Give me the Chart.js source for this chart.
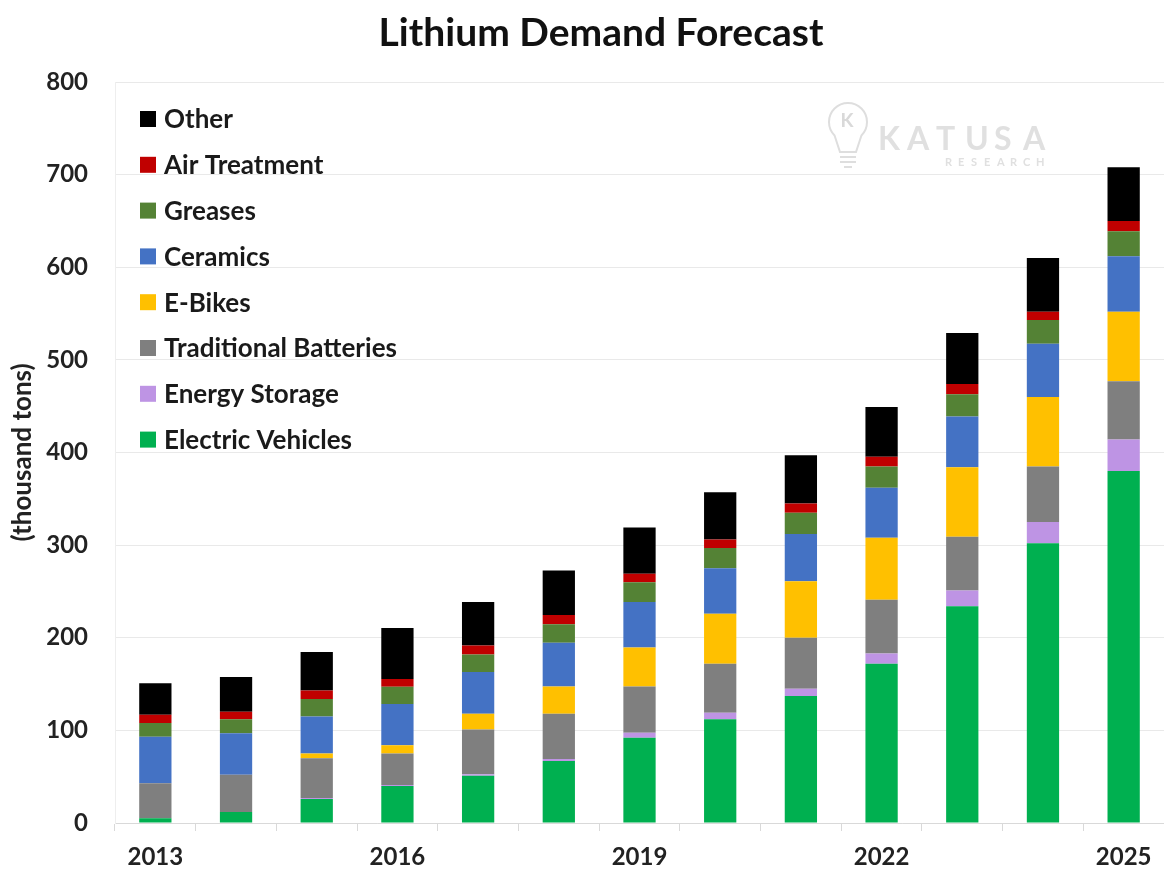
<!DOCTYPE html>
<html>
<head>
<meta charset="utf-8">
<script src="https://cdn.jsdelivr.net/npm/chart.js@4.4.1/dist/chart.umd.min.js"></script>
<style>
  body { margin: 0; background: #fff; }
  #wrap { width: 1164px; height: 871px; position: relative; }
</style>
</head>
<body>
<div id="wrap"><canvas id="lithiumChart"></canvas></div>
<script>
// values, thousand tons
const years = ['2013', '2014', '2015', '2016', '2017', '2018', '2019', '2020', '2021', '2022', '2023', '2024', '2025'];
const electricVehicles = [5, 12, 26, 40, 51, 67, 92, 112, 137, 172, 234, 302, 380];
const energyStorage = [0, 0, 1, 1, 1.5, 2, 5.5, 7, 8, 11, 17, 23, 34];
const traditionalBatteries = [38, 40, 43, 34, 48.5, 49, 50, 53, 55, 58, 58, 60, 63];
const eBikes = [0, 0, 5, 9, 17, 29.5, 42, 54, 61, 67, 75, 75, 75];
const ceramics = [50, 45, 40, 44.5, 45, 47, 49, 49, 51, 54, 55, 57.5, 60];
const greases = [15, 15, 19, 18.5, 19, 20, 21.5, 22, 23, 23, 24, 25.5, 27];
const airTreatment = [9, 8, 9, 8.5, 9.5, 10, 9, 9, 10, 10.5, 11, 9, 11];
const other = [34, 37.5, 41.5, 55, 47, 48, 50, 51, 52, 53.5, 55, 58, 58];
const yTicks = [0, 100, 200, 300, 400, 500, 600, 700, 800];

const FONT = 'Lato, "Open Sans", sans-serif';

function series(label, data, color) {
  return {
    label: label,
    data: data,
    backgroundColor: color,
    borderWidth: 0,
    barPercentage: 0.4,
    categoryPercentage: 1.0,
  };
}

// title drawn by hand, it sits a bit right of the canvas centre in the original
const chartTitle = {
  id: 'chartTitle',
  afterDraw(chart) {
    const ctx = chart.ctx;
    ctx.save();
    ctx.font = 'bold 39px ' + FONT;
    ctx.fillStyle = '#111';
    ctx.textAlign = 'center';
    ctx.textBaseline = 'middle';
    ctx.fillText('Lithium Demand Forecast', 601, 33);
    ctx.restore();
  }
};

// legend drawn inside the plot, top-left, top item = last dataset
const insideLegend = {
  id: 'insideLegend',
  afterDraw(chart) {
    const ctx = chart.ctx;
    const sets = chart.data.datasets.slice().reverse();
    ctx.save();
    ctx.font = 'bold 26px ' + FONT;
    ctx.textBaseline = 'middle';
    sets.forEach((ds, i) => {
      const y = 119 + i * 45.8;
      ctx.fillStyle = ds.backgroundColor;
      ctx.fillRect(140, y - 8, 16, 16);
      ctx.fillStyle = '#1a1a1a';
      ctx.fillText(ds.label, 164, y + 1);
    });
    ctx.restore();
  }
};

// faint KATUSA RESEARCH watermark
const watermark = {
  id: 'watermark',
  beforeDatasetsDraw(chart) {
    const ctx = chart.ctx;
    ctx.save();
    ctx.strokeStyle = '#dedede';
    ctx.lineWidth = 2;
    // bulb
    ctx.beginPath();
    ctx.arc(848, 122, 19, Math.PI * 0.75, Math.PI * 2.25);
    ctx.lineTo(856, 152);
    ctx.lineTo(840, 152);
    ctx.closePath();
    ctx.stroke();
    ctx.beginPath();
    ctx.moveTo(840, 157); ctx.lineTo(856, 157);
    ctx.moveTo(840, 162); ctx.lineTo(856, 162);
    ctx.moveTo(844, 167); ctx.lineTo(852, 167);
    ctx.stroke();
    ctx.fillStyle = '#d9d9d9';
    ctx.font = 'bold 19px ' + FONT;
    ctx.textAlign = 'center';
    ctx.textBaseline = 'middle';
    ctx.fillText('K', 847, 121);
    ctx.textAlign = 'left';
    ctx.font = 'bold 32px ' + FONT;
    ctx.fillStyle = '#e0e0e0';
    'KATUSA'.split('').forEach((ch, i) => ctx.fillText(ch, 878 + i * 29, 140));
    ctx.font = 'bold 11px ' + FONT;
    'RESEARCH'.split('').forEach((ch, i) => ctx.fillText(ch, 945 + i * 13, 162));
    ctx.restore();
  }
};

const ctx = document.getElementById('lithiumChart').getContext('2d');

const lithiumChart = new Chart(ctx, {
  type: 'bar',
  data: {
    labels: years,
    datasets: [
      series('Electric Vehicles', electricVehicles, '#00B050'),
      series('Energy Storage', energyStorage, '#BE94E4'),
      series('Traditional Batteries', traditionalBatteries, '#7F7F7F'),
      series('E-Bikes', eBikes, '#FFC000'),
      series('Ceramics', ceramics, '#4472C4'),
      series('Greases', greases, '#548235'),
      series('Air Treatment', airTreatment, '#C00000'),
      series('Other', other, '#000000'),
    ],
  },
  options: {
    responsive: true,
    maintainAspectRatio: false,
    animation: false,
    layout: { padding: { left: 0, right: 0, top: 82, bottom: 0 } },
    plugins: {
      legend: { display: false },
      tooltip: { enabled: false },
      title: { display: false },
    },
    scales: {
      x: {
        stacked: true,
        grid: {
          display: true,
          drawOnChartArea: false,
          drawTicks: true,
          tickLength: 8,
          color: '#d9d9d9',
        },
        border: { display: true, color: '#d9d9d9' },
        ticks: {
          autoSkip: false,
          maxRotation: 0,
          padding: 12,
          color: '#222',
          font: { family: FONT, size: 24, weight: 'bold' },
          callback: (value, index) => (index % 3 === 0 ? years[index] : ''),
        },
        afterFit: (scale) => { scale.height = 48; },
      },
      y: {
        stacked: true,
        min: 0,
        max: 800,
        afterBuildTicks: (scale) => { scale.ticks = yTicks.map((v) => ({ value: v })); },
        grid: { color: '#e9e9e9', drawTicks: false },
        border: { display: true, color: '#eeeeee' },
        ticks: {
          padding: 27,
          color: '#222',
          font: { family: FONT, size: 24, weight: 'bold' },
        },
        title: {
          display: true,
          text: '(thousand tons)',
          color: '#222',
          font: { family: FONT, size: 26, weight: 'bold' },
          padding: { top: 7, bottom: 0 },
        },
        afterFit: (scale) => { scale.width = 115; },
      },
    },
  },
  plugins: [watermark, insideLegend, chartTitle],
});
</script>
</body>
</html>
